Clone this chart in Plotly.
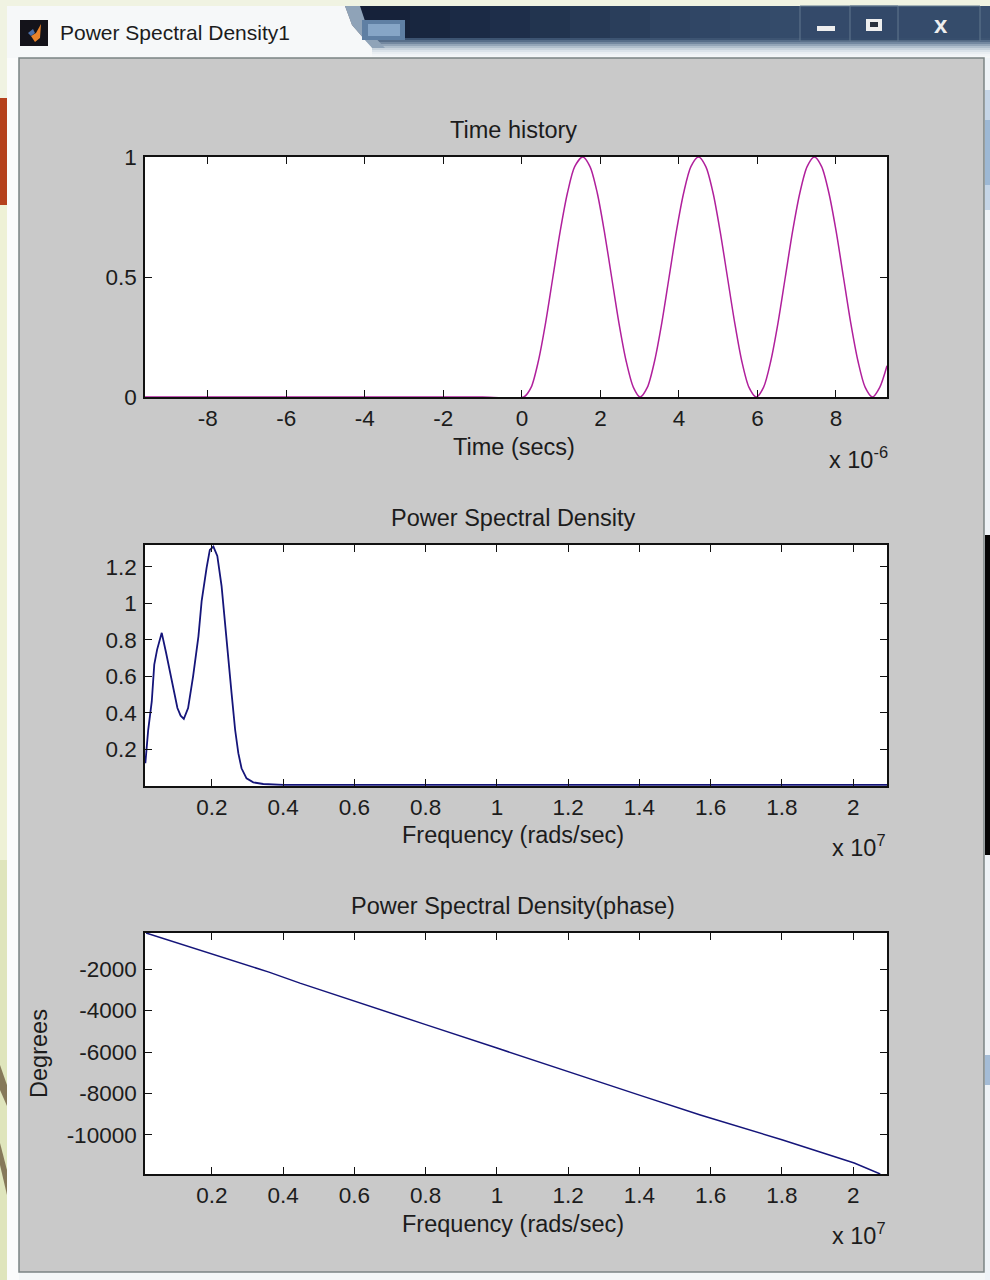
import plotly.graph_objects as go

# ---------- data ----------
time_x = [-9.6, -5, -1, 0.05, 0.235, 0.42, 0.605, 0.79, 0.975, 1.16, 1.345, 1.55, 1.735, 1.92, 2.1, 2.285, 2.47,
          2.655, 2.84, 3.01, 3.195, 3.38, 3.565, 3.75, 3.935, 4.12, 4.305, 4.5, 4.685, 4.87, 5.05, 5.235, 5.42,
          5.6, 5.785, 5.97, 6.155, 6.34, 6.525, 6.71, 6.895, 7.08, 7.265, 7.45, 7.635, 7.82, 8.005, 8.19, 8.375,
          8.56, 8.745, 8.93, 9.115, 9.3]
time_y = [0, 0, 0, 0, 0.04, 0.15, 0.31, 0.5, 0.69, 0.85, 0.96, 1.0, 0.96, 0.85, 0.69, 0.5, 0.31,
          0.15, 0.04, 0, 0.04, 0.15, 0.31, 0.5, 0.69, 0.85, 0.96, 1.0, 0.96, 0.85, 0.69, 0.5, 0.31,
          0.15, 0.04, 0, 0.04, 0.15, 0.31, 0.5, 0.69, 0.85, 0.96, 1.0, 0.96, 0.85, 0.69, 0.5, 0.31,
          0.15, 0.04, 0, 0.04, 0.13]

psd_x = [0.013, 0.021, 0.031, 0.038, 0.046, 0.059, 0.071, 0.082, 0.093, 0.103, 0.112, 0.121, 0.133, 0.147,
         0.162, 0.171, 0.185, 0.194, 0.204, 0.215, 0.227, 0.237, 0.246, 0.255, 0.265, 0.274, 0.283,
         0.297, 0.316, 0.344, 0.4, 0.8, 1.2, 1.6, 2.095]
psd_y = [0.125, 0.308, 0.463, 0.665, 0.747, 0.839, 0.731, 0.621, 0.511, 0.427, 0.385, 0.368, 0.427, 0.601,
         0.82, 1.013, 1.196, 1.293, 1.311, 1.26, 1.095, 0.875, 0.692, 0.509, 0.308, 0.18, 0.097,
         0.042, 0.02, 0.011, 0.006, 0.006, 0.006, 0.006, 0.006]

phase_x = [0.015, 0.1, 0.2, 0.27, 0.36, 0.447, 0.6, 0.8, 1.0, 1.2, 1.4, 1.571, 1.8, 2.003, 2.076]
phase_y = [-265, -730, -1290, -1660, -2150, -2680, -3560, -4680, -5810, -6960, -8080, -9036, -10230, -11349, -11880]

time_ticks = [-8, -6, -4, -2, 0, 2, 4, 6, 8]
freq_ticks = [0.2, 0.4, 0.6, 0.8, 1, 1.2, 1.4, 1.6, 1.8, 2]
freq_labels = ["0.2", "0.4", "0.6", "0.8", "1", "1.2", "1.4", "1.6", "1.8", "2"]
time_yticks = [0, 0.5, 1]
psd_yticks = [0.2, 0.4, 0.6, 0.8, 1, 1.2]
phase_yticks = [-10000, -8000, -6000, -4000, -2000]

W, H = 990, 1280
FONT = "Liberation Sans"
TXT = "#1c1c1c"
fs = 23.5
tick_fs = 22.5


def px(v):
    return v / W


def py(v):
    return 1 - v / H


fig = go.Figure()
fig.add_trace(go.Scatter(x=time_x, y=time_y, mode="lines", xaxis="x", yaxis="y",
                         line=dict(color="#b0209c", width=1.5, shape="spline", smoothing=0.8), showlegend=False))
fig.add_trace(go.Scatter(x=psd_x, y=psd_y, mode="lines", xaxis="x2", yaxis="y2",
                         line=dict(color="#15157a", width=1.8), showlegend=False))
fig.add_trace(go.Scatter(x=phase_x, y=phase_y, mode="lines", xaxis="x3", yaxis="y3",
                         line=dict(color="#15157a", width=1.5), showlegend=False))

ax = dict(showgrid=False, zeroline=False, showline=True, linecolor="#111111", linewidth=1.6,
          mirror="allticks", ticks="inside", ticklen=7, tickwidth=1.3, tickcolor="#111111",
          tickfont=dict(family=FONT, size=tick_fs, color=TXT), automargin=False)
dom_x = [px(145), px(887)]


def xax(rng, vals, text, anchor):
    return dict(ax, domain=dom_x, range=rng, tickmode="array", tickvals=vals, ticktext=text,
                anchor=anchor, ticklabelstandoff=0)


def yax(top, bot, rng, vals, text, anchor):
    return dict(ax, domain=[py(bot), py(top)], range=rng, tickmode="array", tickvals=vals, ticktext=text,
                anchor=anchor, ticklabelstandoff=2)


layout = dict(
    width=W, height=H, margin=dict(l=0, r=0, t=0, b=0),
    paper_bgcolor="#f0f3e2", plot_bgcolor="#ffffff", showlegend=False,
    xaxis=xax([-9.6, 9.3], time_ticks, [str(v) for v in time_ticks], "y"),
    yaxis=yax(157, 397, [0, 1], time_yticks, ["0", "0.5", "1"], "x"),
    xaxis2=xax([0.012, 2.095], freq_ticks, freq_labels, "y2"),
    yaxis2=yax(545, 786, [0, 1.32], psd_yticks, ["0.2", "0.4", "0.6", "0.8", "1", "1.2"], "x2"),
    xaxis3=xax([0.012, 2.095], freq_ticks, freq_labels, "y3"),
    yaxis3=yax(933, 1174, [-11880, -265], phase_yticks, [str(v) for v in phase_yticks], "x3"),
)
layout["yaxis3"]["title"] = dict(text="Degrees", standoff=12, font=dict(family=FONT, size=fs, color=TXT))


def rect(x0, y0, x1, y1, fill, line=None, lw=1):
    return dict(type="rect", xref="paper", yref="paper", layer="below",
                x0=px(x0), x1=px(x1), y0=py(y1), y1=py(y0), fillcolor=fill,
                line=dict(color=line or fill, width=lw if line else 0))


def poly(pts, fill):
    d = "M " + " L ".join(f"{px(a):.5f},{py(b):.5f}" for a, b in pts) + " Z"
    return dict(type="path", xref="paper", yref="paper", layer="below", path=d,
                fillcolor=fill, line=dict(width=0))


def plot_bg(n):
    s = "" if n == 1 else str(n)
    return dict(type="rect", xref=f"x{s} domain", yref=f"y{s} domain", layer="below",
                x0=0, x1=1, y0=0, y1=1, fillcolor="#ffffff", line=dict(width=0))


shapes = [
    # page behind the window
    rect(0, 98, 7, 205, "#b5411c"),
    rect(0, 205, 7, 860, "#eef1d6"),
    rect(0, 860, 7, 1280, "#dfe5bc"),
    poly([(0, 1065), (7, 1085), (7, 1106), (0, 1090)], "#86795a"),
    poly([(0, 1143), (7, 1170), (7, 1195), (0, 1165)], "#86795a"),
    # window glass
    rect(7, 6, 990, 1280, "#f4f7f8"),
    rect(7, 55, 19, 1280, "#fbfcfc"),
    rect(985, 55, 990, 1280, "#eef3f7"),
    rect(985, 90, 990, 120, "#c5d5e6"),
    rect(985, 120, 990, 185, "#9db8d4"),
    rect(985, 185, 990, 210, "#c5d5e6"),
    rect(985, 535, 990, 855, "#050505"),
    rect(985, 1055, 990, 1085, "#a4bcd6"),
]
# title bar: dark band, brighter toward the right, fading down to white
band = ["#141f36", "#16223a", "#18263f", "#1b2a45", "#1e2e4a", "#22344f", "#263955", "#2a3e5b",
        "#2e4361", "#304665", "#324968", "#344b6a", "#364d6c", "#374e6d", "#384f6e", "#39506f", "#39506f"]
for i, c in enumerate(band):
    shapes.append(rect(330 + 40 * i, 6, 370 + 40 * i, 46, c))
fade = ["#3d5472", "#566d89", "#7388a0", "#93a5b8", "#b0bfcd", "#c8d3dd", "#dbe3ea", "#e9eef2", "#f1f4f7",
        "#f4f7f8"]
for i, c in enumerate(fade):
    shapes.append(rect(330, 38 + 2 * i, 990, 40 + 2 * i, c))
shapes += [
    poly([(360, 6), (368, 30), (385, 48), (372, 48), (352, 25), (345, 6)], "#8fa3b8"),
    poly([(7, 6), (345, 6), (352, 25), (372, 48), (372, 58), (7, 58)], "#f6f8f9"),
    rect(362, 20, 405, 40, "#5f7fa3"),
    rect(368, 24, 400, 36, "#86a5c6"),
    rect(800, 6, 980, 41, "rgba(50,72,104,0.5)", "#62788f", 1),
    rect(850, 6, 898, 41, "rgba(50,72,104,0.5)", "#62788f", 1),
    rect(817, 26, 835, 31, "#eeeeee"),
    rect(866, 19, 882, 31, "#eeeeee"),
    rect(870, 22, 878, 27, "#28303d"),
    # application icon
    rect(20, 20, 48, 46, "#14131a"),
    poly([(41, 24), (36, 33), (31, 36), (35, 42), (40, 38)], "#e8832a"),
    poly([(28, 33), (33, 29), (35, 33), (31, 36)], "#4a6fa8"),
    # figure panel
    rect(19, 58, 984, 1272, "#c9c9c9", "#7b8484", 1.5),
    plot_bg(1), plot_bg(2), plot_bg(3),
]
layout["shapes"] = shapes


def note(x, y, text, size=fs, color=TXT, family=FONT, anchor="center"):
    return dict(xref="paper", yref="paper", x=px(x), y=py(y), text=text, showarrow=False,
                xanchor=anchor, yanchor="middle", font=dict(family=family, size=size, color=color))


layout["annotations"] = [
    note(174.5, 32, "Power Spectral Density1", size=21),
    note(941, 24, "<b>x</b>", size=24, color="#eeeeee"),
    note(513, 130, "Time history"),
    note(513, 518, "Power Spectral Density"),
    note(513, 906, "Power Spectral Density(phase)"),
    note(514, 447, "Time (secs)"),
    note(513, 835, "Frequency (rads/sec)"),
    note(513, 1224, "Frequency (rads/sec)"),
    note(858, 458, "x 10<sup>-6</sup>"),
    note(859, 846, "x 10<sup>7</sup>"),
    note(859, 1234, "x 10<sup>7</sup>"),
]
fig.update_layout(**layout)
fig.write_html("out.html", config=dict(displayModeBar=False),
               post_script="document.body.style.margin='0';")
